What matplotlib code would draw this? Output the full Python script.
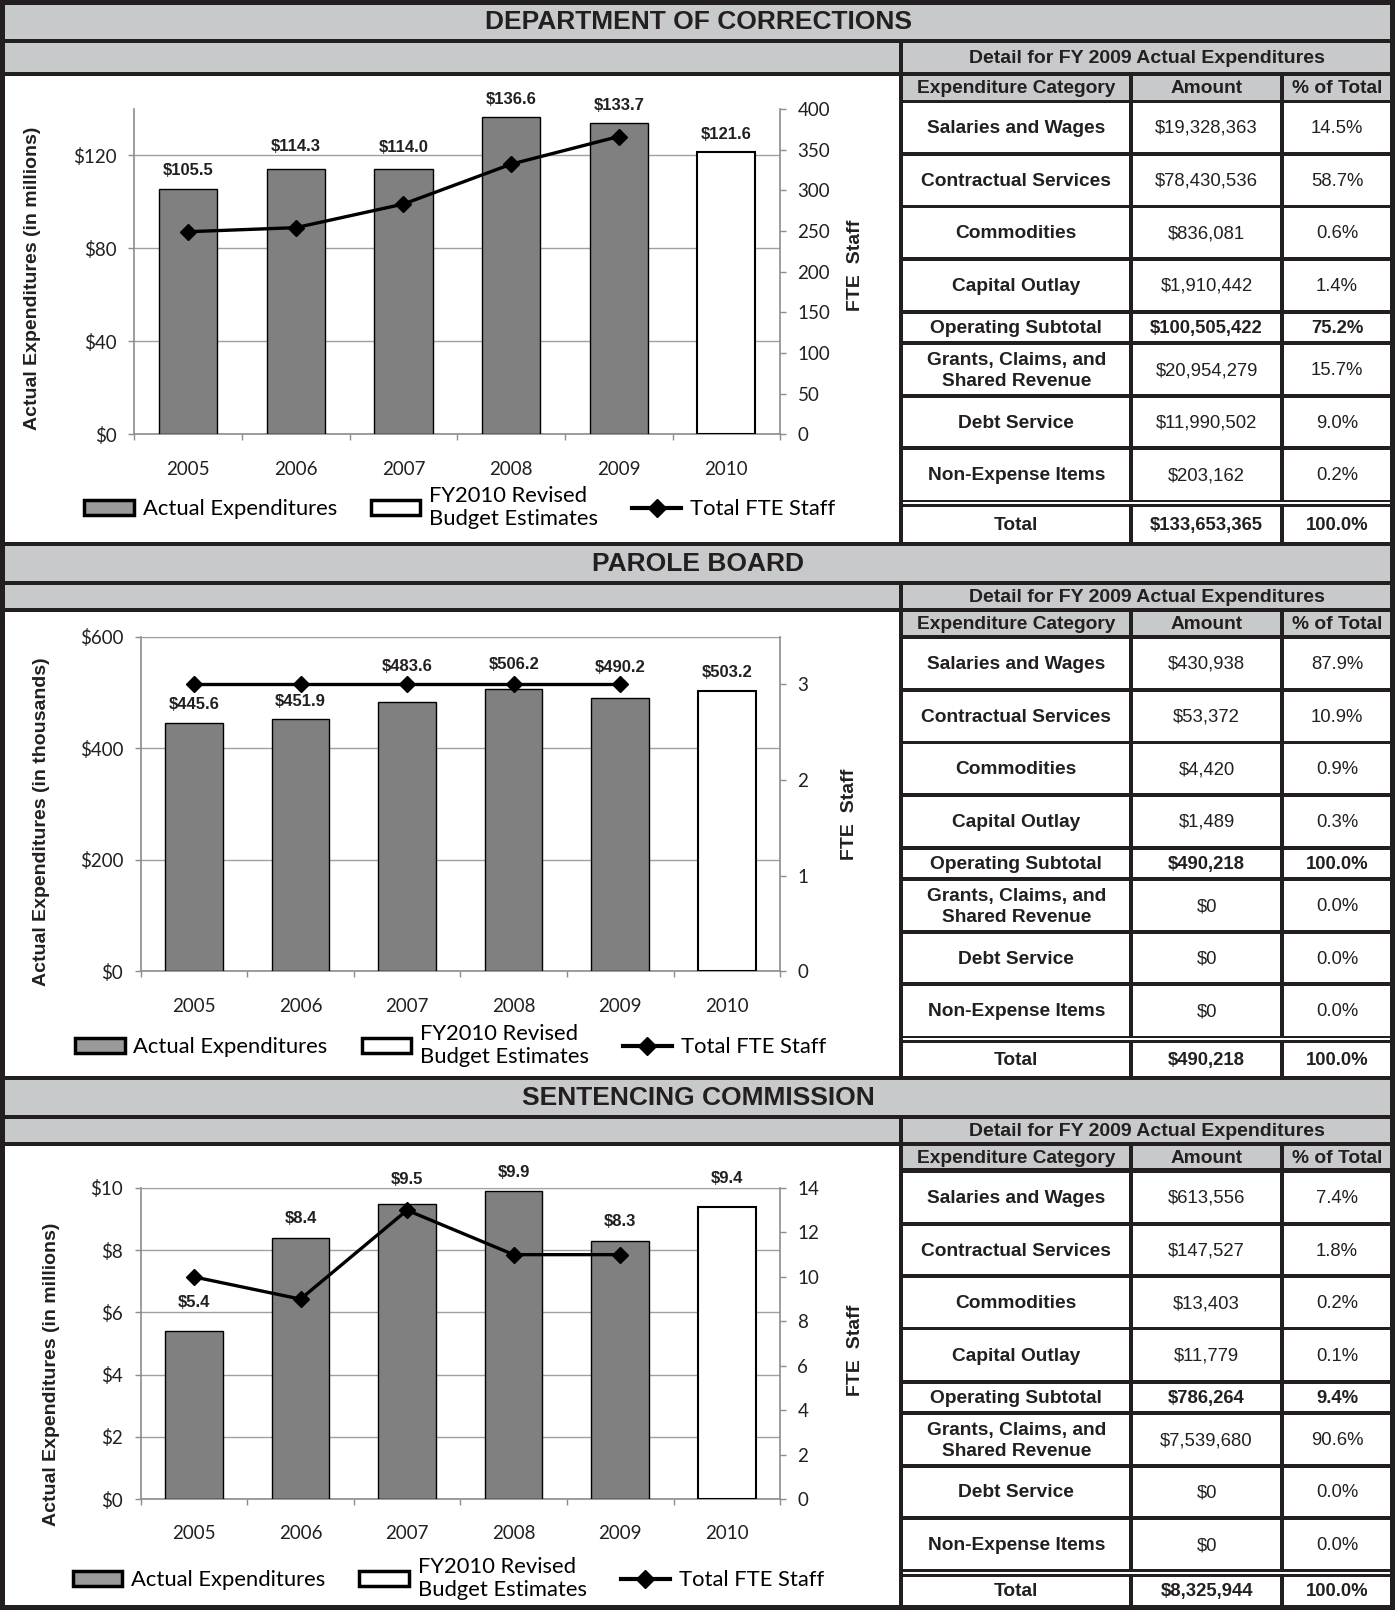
import matplotlib
matplotlib.use("Agg")
import matplotlib.pyplot as plt
from matplotlib.patches import Rectangle, Patch
from matplotlib.lines import Line2D
import numpy as np

# layout units = pixels of the reference as seen at 1359 x 1568
W, H = 1359, 1568
PX2PT = (1395 / W) * 72 / 100

DARK = '#231f20'
BAND = '#c8c9cb'
BAR = '#808080'
AXC = '#8c8c8c'

years = ['2005', '2006', '2007', '2008', '2009', '2010']

# Department of Corrections ($ millions, FTE)
doc_exp = [105.5, 114.3, 114.0, 136.6, 133.7, 121.6]
doc_fte = [249, 254, 283, 332, 366]
# Parole Board ($ thousands, FTE)
pb_exp = [445.6, 451.9, 483.6, 506.2, 490.2, 503.2]
pb_fte = [3, 3, 3, 3, 3]
# Sentencing Commission ($ millions, FTE)
sc_exp = [5.4, 8.4, 9.5, 9.9, 8.3, 9.4]
sc_fte = [10, 9, 13, 11, 11]

categories = ['Salaries and Wages', 'Contractual Services', 'Commodities',
              'Capital Outlay', 'Operating Subtotal',
              'Grants, Claims, and\nShared Revenue', 'Debt Service',
              'Non-Expense Items', 'Total']

doc_amt = ['$19,328,363', '$78,430,536', '$836,081', '$1,910,442', '$100,505,422',
           '$20,954,279', '$11,990,502', '$203,162', '$133,653,365']
doc_pct = ['14.5%', '58.7%', '0.6%', '1.4%', '75.2%', '15.7%', '9.0%', '0.2%', '100.0%']

pb_amt = ['$430,938', '$53,372', '$4,420', '$1,489', '$490,218',
          '$0', '$0', '$0', '$490,218']
pb_pct = ['87.9%', '10.9%', '0.9%', '0.3%', '100.0%', '0.0%', '0.0%', '0.0%', '100.0%']

sc_amt = ['$613,556', '$147,527', '$13,403', '$11,779', '$786,264',
          '$7,539,680', '$0', '$0', '$8,325,944']
sc_pct = ['7.4%', '1.8%', '0.2%', '0.1%', '9.4%', '90.6%', '0.0%', '0.0%', '100.0%']

bold_rows = [4, 8]

TITLE_FONT = ['Liberation Sans Narrow', 'Liberation Sans']
ARIAL = ['Liberation Sans', 'DejaVu Sans']
CAL = ['Lato', 'DejaVu Sans']

fig = plt.figure(figsize=(13.95, 16.10), dpi=100)
bg = fig.add_axes([0, 0, 1, 1])
bg.set_xlim(0, W)
bg.set_ylim(H, 0)
bg.axis('off')


def box(x0, y0, x1, y1, c):
    bg.add_patch(Rectangle((x0, y0), x1 - x0, y1 - y0, facecolor=c,
                           edgecolor='none', zorder=1))


box(0, 0, W, H, DARK)

COLS = [(880, 1100), (1104, 1247), (1251, 1354)]
LINES = [-1.5, 50, 101, 152, 204, 234, 285.5, 336.5, 390]
THICK = [3, 3.5, 3.5, 3.5, 4.5, 4.5, 3.5, 3.5, 7]


def section(title, title_y, sub_y, hdr_y, r, end, amts, pcts):
    box(5, title_y[0], 1354, title_y[1], BAND)
    bg.text(680, sum(title_y) / 2, title, ha='center', va='center',
            fontsize=19, fontweight='bold', family=TITLE_FONT, color=DARK, zorder=3)
    box(5, sub_y[0], 876, sub_y[1], BAND)
    box(880, sub_y[0], 1354, sub_y[1], BAND)
    bg.text(1117, sum(sub_y) / 2 + 1, 'Detail for FY 2009 Actual Expenditures',
            ha='center', va='center', fontsize=14, fontweight='bold',
            family=ARIAL, color=DARK, zorder=3)
    box(5, sub_y[1] + 4, 876, end, 'white')
    for (c0, c1), lab in zip(COLS, ['Expenditure Category', 'Amount', '% of Total']):
        box(c0, hdr_y[0], c1, hdr_y[1], BAND)
        bg.text((c0 + c1) / 2, sum(hdr_y) / 2 + 1, lab, ha='center', va='center',
                fontsize=13.8, fontweight='bold', family=ARIAL, color=DARK, zorder=3)
    for i in range(9):
        top = r + LINES[i] + THICK[i] / 2
        bot = end if i == 8 else r + LINES[i + 1] - THICK[i + 1] / 2
        cells = [categories[i], amts[i], pcts[i]]
        for j, ((c0, c1), txt) in enumerate(zip(COLS, cells)):
            box(c0, top, c1, bot, 'white')
            bold = j == 0 or i in bold_rows
            bg.text((c0 + c1) / 2, (top + bot) / 2 + 1, txt, ha='center', va='center',
                    fontsize=13.8 if j == 0 else 13.3,
                    fontweight='bold' if bold else 'normal',
                    family=ARIAL, color=DARK, linespacing=1.3, zorder=3)
    dy = r + LINES[8]
    box(880, dy - 0.75, 1354, dy + 0.75, 'white')


def chart(bx, exp, fte, ylim, yticks, ylabs, y2lim, y2ticks, ylabel, ylab_xy,
          fte_xy, lab_dy, leg_xy, top_spine):
    l, t, r, b = bx
    ax = fig.add_axes([l / W, 1 - b / H, (r - l) / W, (b - t) / H])
    ax.set_facecolor('none')
    ax.set_axisbelow(True)
    x = np.arange(len(years))
    ax.bar(x[:-1], exp[:-1], width=0.54, color=BAR, edgecolor='black', lw=1.0, zorder=3)
    ax.bar(x[-1], exp[-1], width=0.54, color='white', edgecolor='black', lw=1.5, zorder=3)
    for xi, v, d in zip(x, exp, lab_dy):
        ax.annotate(f'${v:.1f}', (xi, v), xytext=(0, d * PX2PT), textcoords='offset points',
                    ha='center', va='center', fontsize=12, fontweight='bold',
                    family=ARIAL, color=DARK, zorder=5)
    ax.set_xlim(-0.5, 5.5)
    ax.set_ylim(*ylim)
    ax.set_yticks(yticks)
    ax.set_yticklabels(ylabs)
    ax.yaxis.grid(True, color='#a0a0a0', lw=1.0)
    ax.set_xticks(x)
    ax.set_xticklabels(years)
    ax.set_xticks(np.arange(-0.5, 6), minor=True)
    ax.tick_params(axis='x', which='major', length=0, pad=19)
    ax.tick_params(axis='x', which='minor', length=4.5, color=AXC, width=1.0)
    ax.tick_params(axis='y', length=4.5, color=AXC, width=1.0, pad=8)
    for lab in ax.get_xticklabels() + ax.get_yticklabels():
        lab.set_family(CAL)
        lab.set_fontsize(13.5)
        lab.set_color(DARK)
    for s in ['left', 'bottom']:
        ax.spines[s].set_color(AXC)
        ax.spines[s].set_linewidth(1.2)
    ax.spines['right'].set_visible(False)
    ax.spines['top'].set_visible(top_spine)
    ax.spines['top'].set_color('#a0a0a0')

    ax2 = ax.twinx()
    ax2.plot(x[:len(fte)], fte, color='black', lw=2.4, marker='D', ms=8, zorder=6)
    ax2.set_ylim(*y2lim)
    ax2.set_yticks(y2ticks)
    ax2.tick_params(axis='y', length=4.5, color=AXC, width=1.0, pad=8)
    for lab in ax2.get_yticklabels():
        lab.set_family(CAL)
        lab.set_fontsize(13.5)
        lab.set_color(DARK)
    for s in ['left', 'top', 'bottom']:
        ax2.spines[s].set_visible(False)
    ax2.spines['right'].set_color(AXC)
    ax2.spines['right'].set_linewidth(1.2)

    bg.text(*ylab_xy, ylabel, rotation=90, ha='center', va='center', fontsize=14,
            fontweight='bold', family=ARIAL, color=DARK, zorder=3)
    bg.text(*fte_xy, 'FTE  Staff', rotation=90, ha='center', va='center', fontsize=14,
            fontweight='bold', family=ARIAL, color=DARK, zorder=3)

    handles = [Patch(facecolor='#9a9a9a', edgecolor='black', linewidth=2.5),
               Patch(facecolor='white', edgecolor='black', linewidth=2.5),
               Line2D([], [], color='black', lw=3, marker='D', ms=9)]
    labels = ['Actual Expenditures', 'FY2010 Revised\nBudget Estimates', 'Total FTE Staff']
    ax.legend(handles, labels, ncol=3, frameon=False, loc='center',
              bbox_to_anchor=leg_xy, bbox_transform=bg.transData,
              prop={'family': CAL, 'size': 15.8}, handlelength=2.25, handleheight=0.65,
              handletextpad=0.4, columnspacing=1.55, borderpad=0, labelspacing=0.1)


section('DEPARTMENT OF CORRECTIONS', (5, 38), (42, 70), (74, 97), 100, 528, doc_amt, doc_pct)
section('PAROLE BOARD', (532, 566), (570, 592), (596, 618), 622, 1048, pb_amt, pb_pct)
section('SENTENCING COMMISSION', (1052, 1086), (1090, 1112), (1116, 1138), 1142, 1563,
        sc_amt, sc_pct)

chart((131, 106, 760, 423), doc_exp, doc_fte, (0, 140), [0, 40, 80, 120],
      ['$0', '$40', '$80', '$120'], (0, 400), range(0, 401, 50),
      'Actual Expenditures (in millions)', (32, 271), (833, 258),
      [18, 22, 21.5, 17, 18, 17], (448, 494), False)
chart((137, 620, 760, 946), pb_exp, pb_fte, (0, 600), [0, 200, 400, 600],
      ['$0', '$200', '$400', '$600'], (0, 3.5), [0, 1, 2, 3],
      'Actual Expenditures (in thousands)', (40, 800), (828, 793),
      [18, 17, 34, 24, 30, 18], (439, 1018), True)
chart((137, 1157, 760, 1460), sc_exp, sc_fte, (0, 10), [0, 2, 4, 6, 8, 10],
      ['$0', '$2', '$4', '$6', '$8', '$10'], (0, 14), range(0, 15, 2),
      'Actual Expenditures (in millions)', (50, 1338), (833, 1315),
      [28, 19, 23, 18, 19, 27], (437, 1537), True)

fig.savefig('out.png', dpi=100)
